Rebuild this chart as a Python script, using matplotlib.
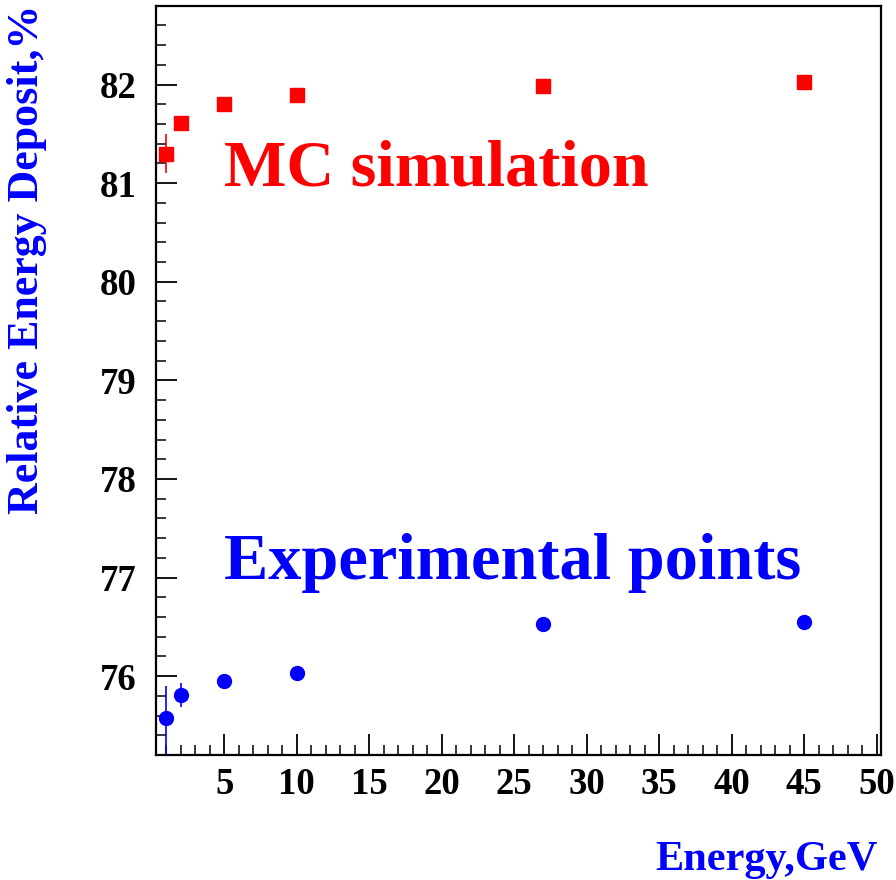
import matplotlib
matplotlib.use("Agg")
import matplotlib.pyplot as plt
from matplotlib.ticker import MultipleLocator

plt.rcParams['font.family'] = ['Liberation Serif', 'DejaVu Serif']
plt.rcParams['font.weight'] = 'bold'

# Beam energies (GeV)
energy = [1, 2, 5, 10, 27, 45]

# Monte Carlo relative energy deposit (%)
mc_values = [81.30, 81.61, 81.80, 81.89, 81.99, 82.03]
mc_err = [0.20, 0.03, 0.03, 0.03, 0.03, 0.03]

# Measured relative energy deposit (%)
exp_values = [75.58, 75.81, 75.955, 76.03, 76.53, 76.55]
exp_err_low = [0.40, 0.12, 0.03, 0.03, 0.03, 0.03]
exp_err_high = [0.32, 0.12, 0.03, 0.03, 0.03, 0.03]

x_major_ticks = [5, 10, 15, 20, 25, 30, 35, 40, 45, 50]
y_major_ticks = [76, 77, 78, 79, 80, 81, 82]

fig = plt.figure(figsize=(8.96, 8.80), dpi=100)
ax = fig.add_axes([156 / 896, 1 - 755 / 880, (881 - 156) / 896, (755 - 5.7) / 880])

ax.errorbar(energy, mc_values, yerr=mc_err, fmt='s', color='#ff0000',
            markersize=9.5, elinewidth=1.2, capsize=0, clip_on=True)
ax.errorbar(energy, exp_values, yerr=[exp_err_low, exp_err_high], fmt='o',
            color='#0000ff', markersize=10, elinewidth=1.2, capsize=0, clip_on=True)

ax.set_xlim(0.3, 50.3)
ax.set_ylim(75.2, 82.8)

ax.xaxis.set_minor_locator(MultipleLocator(1))
ax.set_xticks(x_major_ticks)
ax.yaxis.set_minor_locator(MultipleLocator(0.2))
ax.set_yticks(y_major_ticks)

ax.tick_params(axis='both', which='major', direction='in', length=15, width=1.3,
               labelsize=26.5, pad=9, colors='black')
ax.tick_params(axis='both', which='minor', direction='in', length=7.5, width=1.1)
ax.tick_params(axis='y', which='major', pad=14)
ax.tick_params(top=False, right=False, which='both')
for lbl in ax.get_xticklabels() + ax.get_yticklabels():
    lbl.set_fontweight('bold')

for sp in ax.spines.values():
    sp.set_linewidth(1.6)

ax.text(5.0, 80.98, 'MC simulation', color='#ff0000', fontsize=47.6,
        fontweight='bold', ha='left', va='baseline')
ax.text(5.0, 76.99, 'Experimental points', color='#0000ff', fontsize=47.8,
        fontweight='bold', ha='left', va='baseline')

fig.text(878 / 896, 1 - 870 / 880, 'Energy,GeV', color='#0000ff', fontsize=30.5,
         fontweight='bold', ha='right', va='baseline')
fig.text(27 / 896, 1 - 5 / 880, 'Relative Energy Deposit,%', color='#0000ff',
         fontsize=31.7, fontweight='bold', rotation=90, ha='center', va='top')

fig.savefig('out.png', dpi=100)
